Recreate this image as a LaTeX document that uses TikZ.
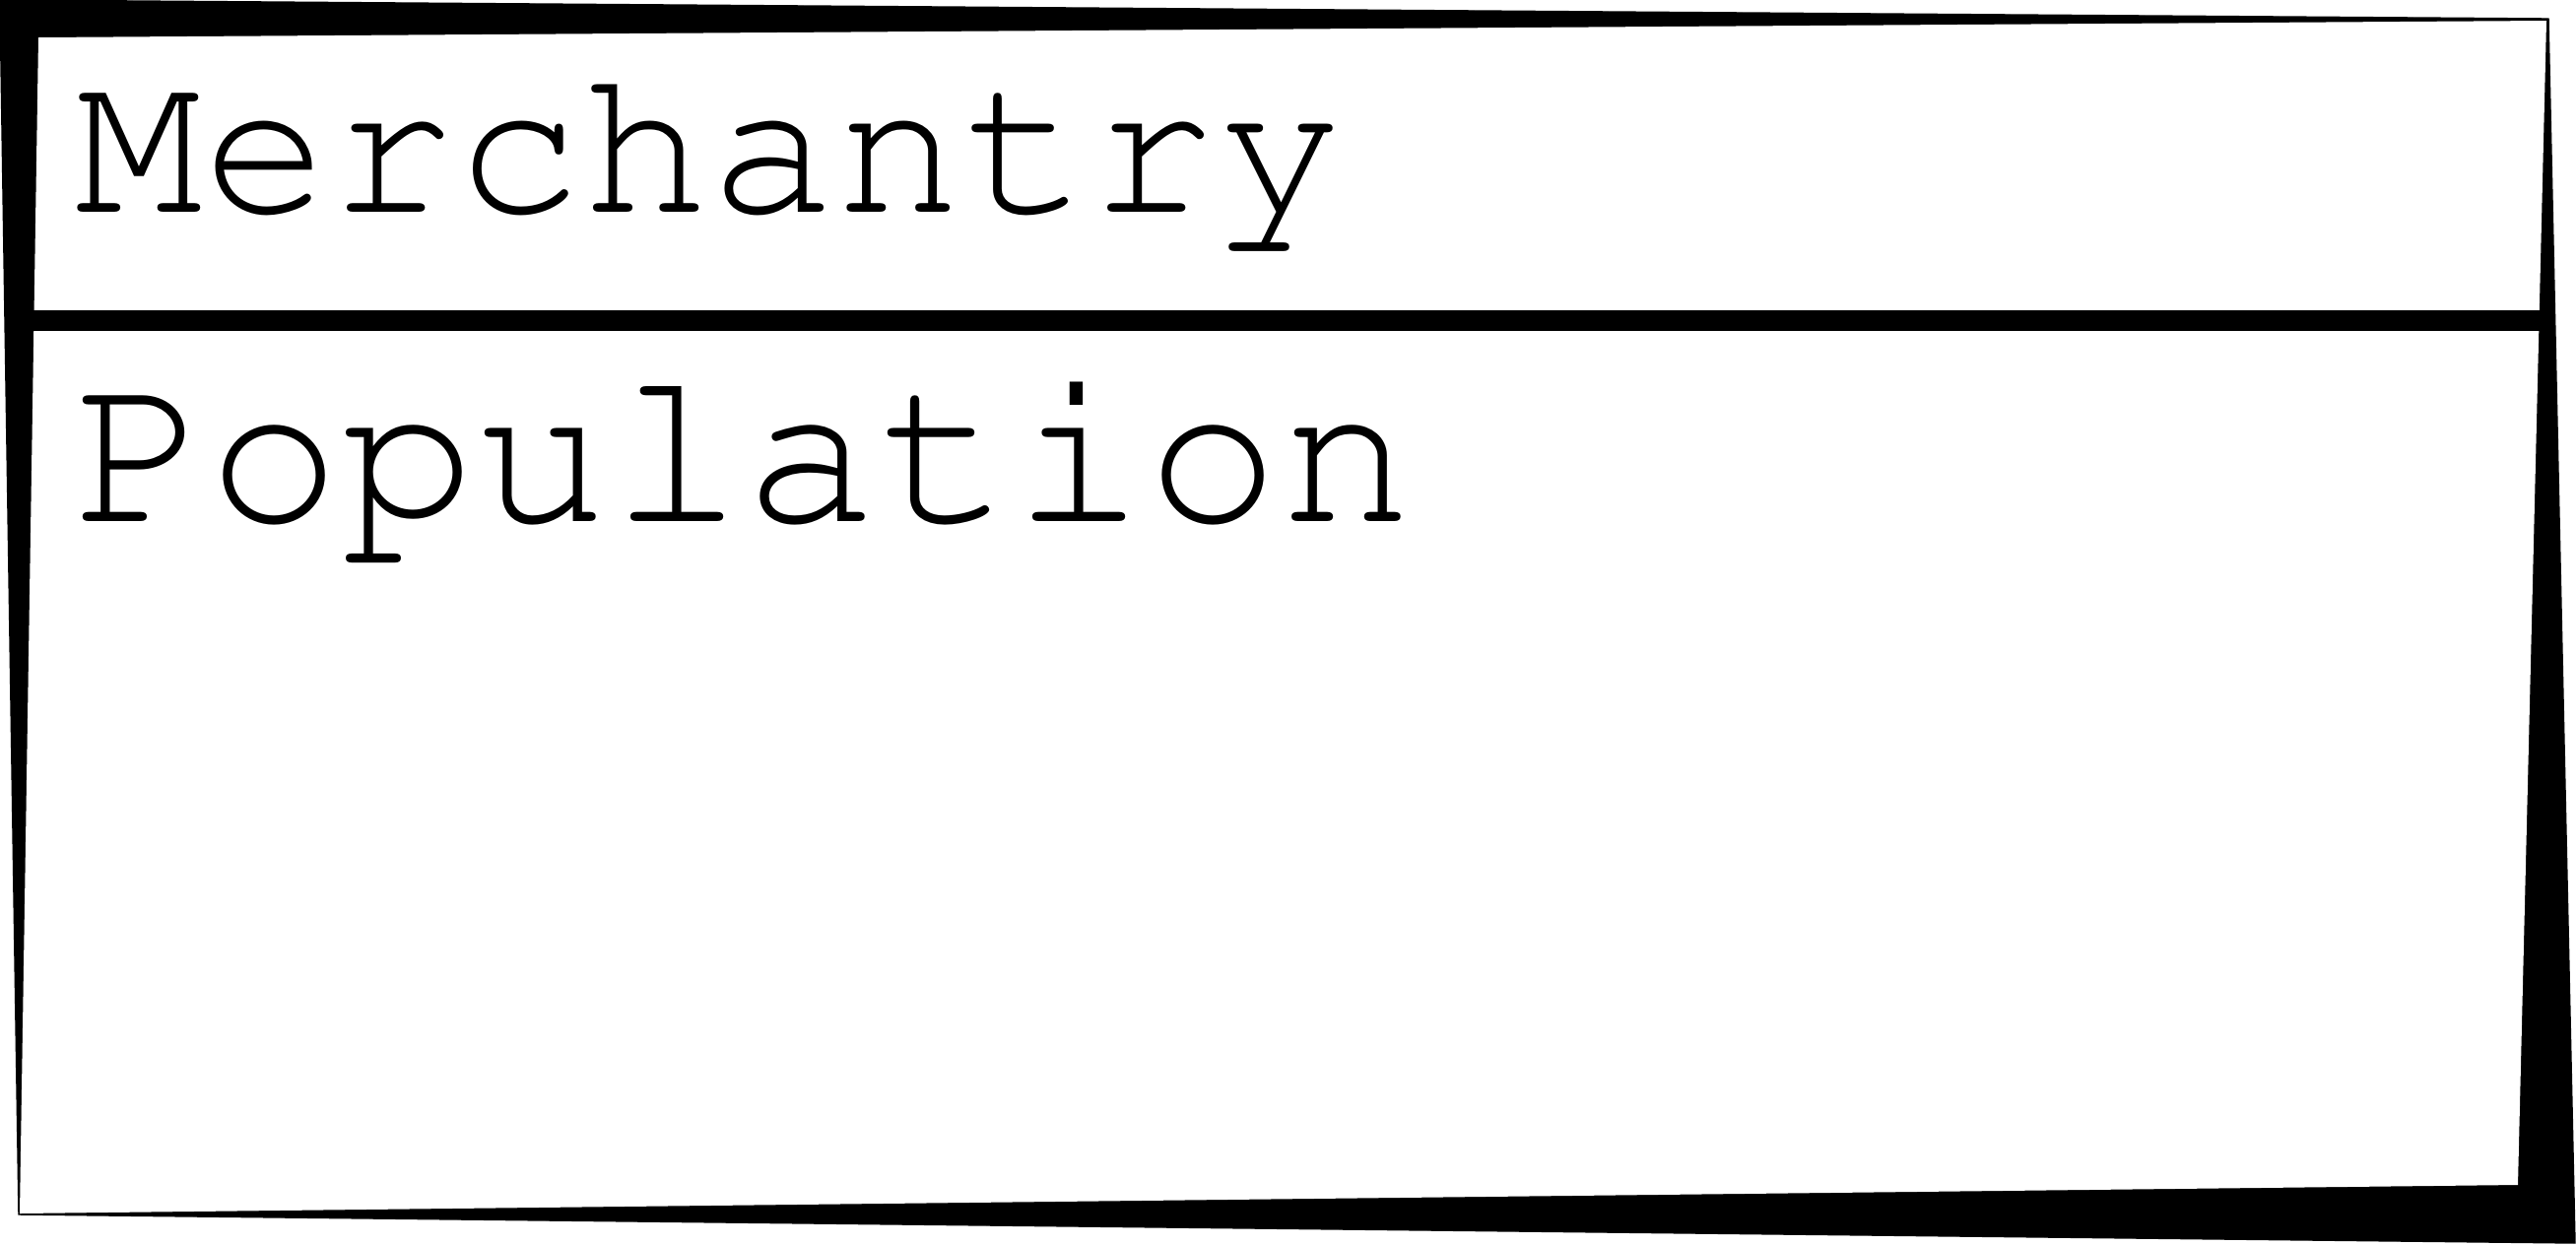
\documentclass[tikz,border=0pt]{standalone}
\usepackage[T1]{fontenc}
\usepackage{courier}

\tikzset{
  boxtext/.style={font=\ttfamily\fontsize{61}{61}\selectfont, inner sep=0pt, anchor=base west},
  bigtext/.style={boxtext, font=\ttfamily\fontsize{64.5}{64.5}\selectfont},
  divider/.style={line width=0.21cm}
}

\begin{document}
\begin{tikzpicture}[x=0.01cm, y=-0.01cm] %Caja de clase
        \useasboundingbox (0,0) rectangle (2615,1263);

        \coordinate (A) at (0,0);
        \coordinate (B) at (2587,19);
        \coordinate (C) at (2614,1262);
        \coordinate (D) at (19,1233);

        \coordinate (E) at (39,38);
        \coordinate (F) at (2585,21);
        \coordinate (G) at (2556,1203);
        \coordinate (H) at (20,1232);

        \coordinate (L) at (10,325.5);
        \coordinate (R) at (2585,325.5);

        \filldraw[thin] (A) -- (B) -- (C) -- (D) -- cycle;
        \fill[white] (E) -- (F) -- (G) -- (H) -- cycle;
        \draw[divider] (L) -- (R);

        \node[boxtext] (name) at (76,215) {Merchantry};
        \node[bigtext] (attr) at (74,529) {Population};
    \end{tikzpicture}
\end{document}
